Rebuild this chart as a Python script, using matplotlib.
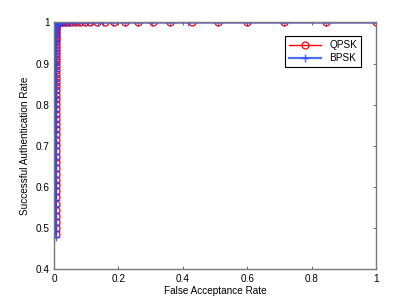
import matplotlib
matplotlib.use("Agg")
import matplotlib.pyplot as plt

plt.rcParams["font.family"] = ["Liberation Sans", "DejaVu Sans"]

# vertical part (FAR ~ 0), successful authentication rate
qpsk_far_v = [0.005, 0.005, 0.005, 0.005, 0.005, 0.005, 0.005, 0.005, 0.005, 0.005,
              0.005, 0.005, 0.005, 0.005, 0.005, 0.005, 0.005, 0.005, 0.005, 0.005,
              0.005, 0.005, 0.005, 0.005, 0.005, 0.005, 0.005, 0.005, 0.005, 0.005,
              0.005, 0.005, 0.005, 0.005, 0.005, 0.005, 0.005, 0.005, 0.005, 0.005,
              0.005, 0.005, 0.005, 0.005, 0.005, 0.005, 0.005, 0.005, 0.005, 0.006,
              0.006, 0.007, 0.008, 0.009]
qpsk_sar_v = [0.485, 0.500, 0.515, 0.530, 0.545, 0.560, 0.575, 0.590, 0.604, 0.618,
              0.632, 0.646, 0.660, 0.674, 0.688, 0.702, 0.715, 0.728, 0.741, 0.754,
              0.766, 0.778, 0.790, 0.802, 0.813, 0.824, 0.835, 0.846, 0.856, 0.866,
              0.876, 0.885, 0.894, 0.903, 0.911, 0.919, 0.927, 0.934, 0.941, 0.948,
              0.954, 0.960, 0.965, 0.970, 0.975, 0.979, 0.983, 0.987, 0.990, 0.993,
              0.995, 0.997, 0.998, 0.999]
# horizontal part (SAR = 1)
qpsk_far_h = [0.010, 0.0115, 0.013, 0.015, 0.017, 0.019, 0.021, 0.025, 0.029, 0.035,
              0.041, 0.048, 0.057, 0.068, 0.080, 0.095, 0.112, 0.133, 0.157, 0.186,
              0.220, 0.260, 0.307, 0.360, 0.430, 0.510, 0.600, 0.713, 0.844, 1.000]

bpsk_far_v = [0.005, 0.005, 0.005, 0.005, 0.005, 0.005, 0.005, 0.005, 0.005, 0.005,
              0.005, 0.005, 0.005, 0.005, 0.005, 0.005, 0.005, 0.005, 0.005, 0.005,
              0.005, 0.005, 0.005, 0.005, 0.005, 0.005, 0.005, 0.005, 0.005, 0.005,
              0.005, 0.005, 0.005, 0.005, 0.005, 0.005, 0.005, 0.005, 0.005, 0.005,
              0.005, 0.005, 0.005, 0.005, 0.005, 0.005, 0.006, 0.007, 0.008, 0.009]
bpsk_sar_v = [0.478, 0.493, 0.508, 0.523, 0.538, 0.553, 0.568, 0.583, 0.597, 0.611,
              0.625, 0.639, 0.653, 0.667, 0.681, 0.695, 0.708, 0.721, 0.734, 0.747,
              0.760, 0.772, 0.784, 0.796, 0.808, 0.819, 0.830, 0.841, 0.851, 0.861,
              0.871, 0.881, 0.890, 0.899, 0.907, 0.915, 0.923, 0.931, 0.938, 0.945,
              0.952, 0.958, 0.964, 0.970, 0.975, 0.980, 0.985, 0.990, 0.994, 0.998]
bpsk_far_h = [0.011, 0.0125, 0.014, 0.016, 0.018, 0.020, 0.023, 0.026, 0.031, 0.037,
              0.043, 0.050, 0.058, 0.070, 0.082, 0.097, 0.115, 0.136, 0.151, 0.182,
              0.220, 0.260, 0.305, 0.359, 0.416, 0.508, 0.600, 0.713, 0.844, 1.000]

qpsk_far = qpsk_far_v + qpsk_far_h
qpsk_sar = qpsk_sar_v + [1.0] * len(qpsk_far_h)
bpsk_far = bpsk_far_v + bpsk_far_h
bpsk_sar = bpsk_sar_v + [1.0] * len(bpsk_far_h)

fig = plt.figure(figsize=(4.15, 3.04), dpi=100)
ax = fig.add_axes([0.130, 0.114, 0.776, 0.812])

ax.plot(qpsk_far, qpsk_sar, color="red", lw=1.0, marker="o", ms=5,
        mfc="none", mec="red", mew=0.9, label="QPSK")
ax.plot(bpsk_far, bpsk_sar, color="#2848ff", lw=1.6, marker="+", ms=5.5,
        mew=1.0, alpha=0.8, label="BPSK")

ax.set_xlim(0, 1)
ax.set_ylim(0.4, 1)
ax.set_xticks([0, 0.2, 0.4, 0.6, 0.8, 1])
ax.set_xticklabels(["0", "0.2", "0.4", "0.6", "0.8", "1"])
ax.set_yticks([0.4, 0.5, 0.6, 0.7, 0.8, 0.9, 1])
ax.set_yticklabels(["0.4", "0.5", "0.6", "0.7", "0.8", "0.9", "1"])
ax.tick_params(direction="in", length=2.5, width=0.6, color="#555555",
               labelsize=7.2, top=True, right=True, pad=3)
for s in ax.spines.values():
    s.set_color("#777777")
    s.set_linewidth(1.0)

ax.set_xlabel("False Acceptance Rate", fontsize=7.2, labelpad=2)
ax.set_ylabel("Successful Authentication Rate", fontsize=7.2, labelpad=4)

leg = ax.legend(loc="upper right", bbox_to_anchor=(0.97, 0.965), fontsize=7.2,
                fancybox=False, framealpha=1, edgecolor="black",
                handlelength=3.2, borderpad=0.4, labelspacing=0.3)
leg.get_frame().set_linewidth(0.8)

fig.savefig("out.png", dpi=100)
